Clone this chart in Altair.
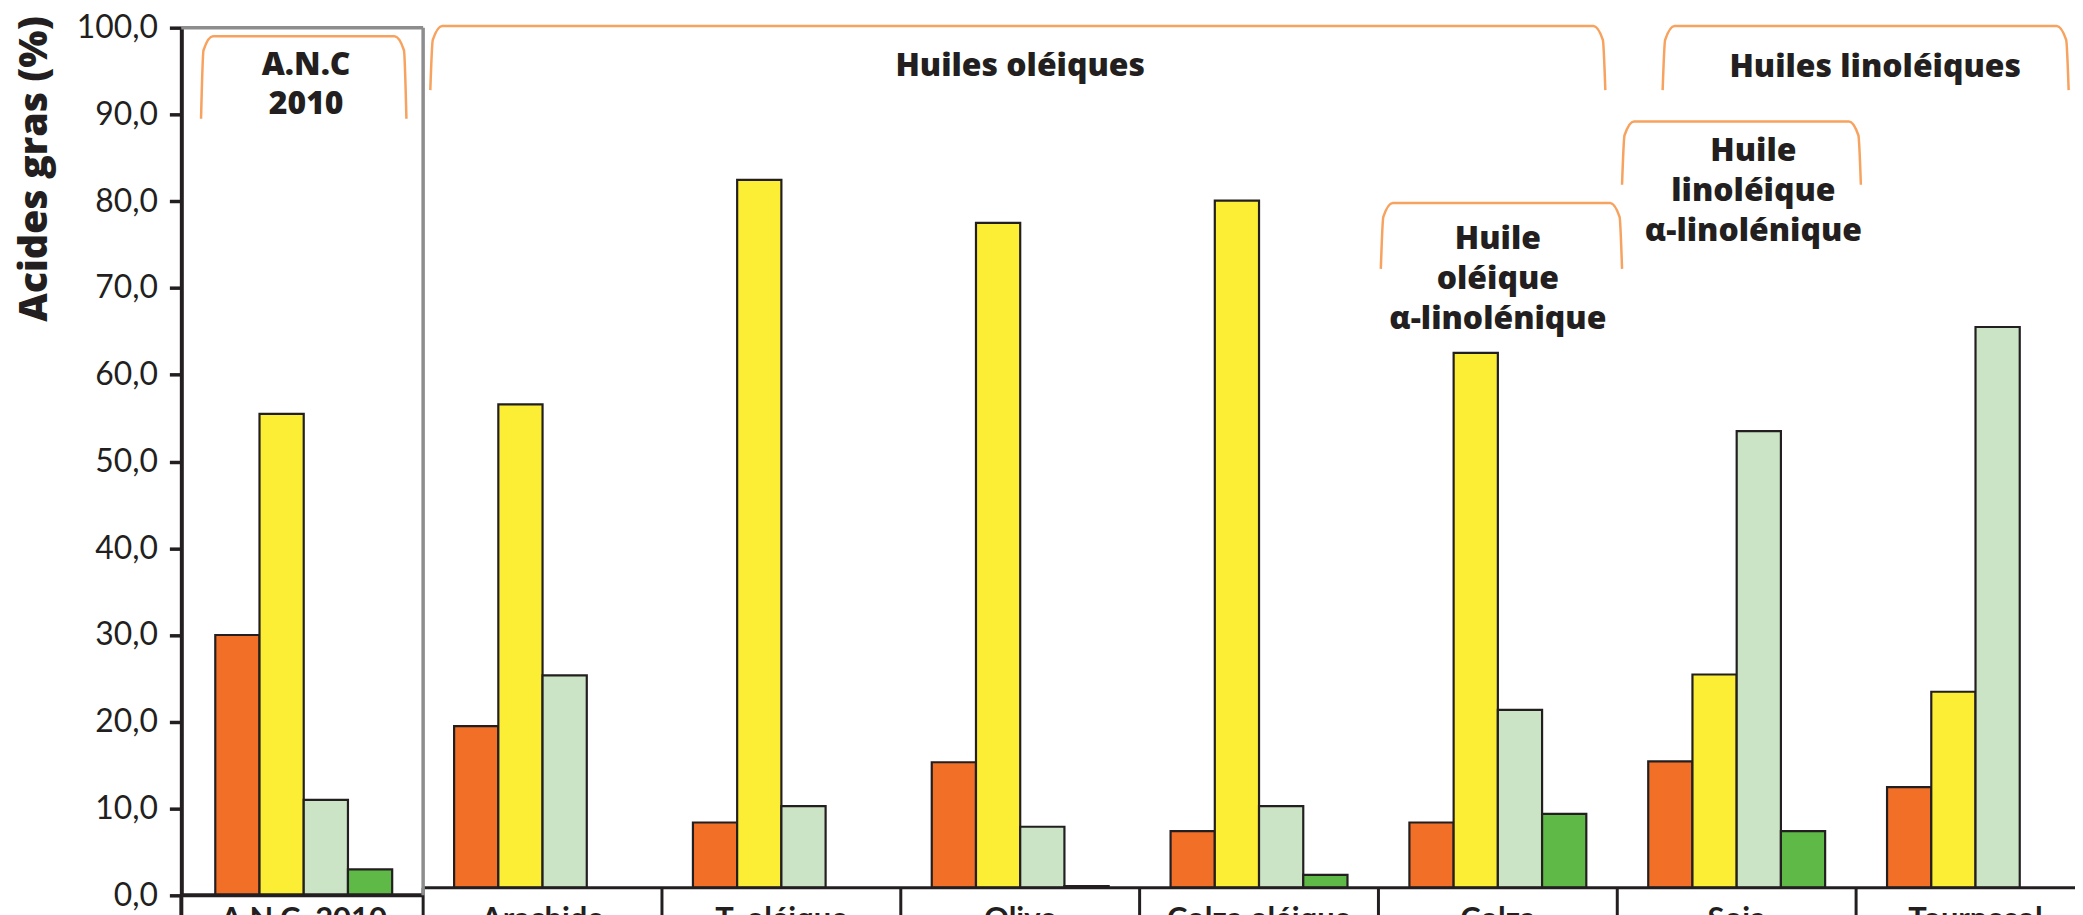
import altair as alt
import pandas as pd

# ---------------- data ----------------
categories = ["A.N.C. 2010", "Arachide", "T. oléique", "Olive",
              "Colza oléique", "Colza", "Soja", "Tournesol"]
acids = ["Acides gras saturés", "Acide oléique", "Acide linoléique", "Acide α-linolénique"]
colors = ["#F26F27", "#FBEE34", "#CBE4C5", "#5EB947"]

saturated = [30.0, 18.8, 7.6, 14.6, 6.6, 7.6, 14.7, 11.7]
oleic = [55.5, 56.2, 82.3, 77.3, 79.9, 62.2, 24.8, 22.8]
linoleic = [11.0, 24.7, 9.5, 7.1, 9.5, 20.7, 53.1, 65.2]
alpha_linolenic = [3.0, None, None, 0.2, 1.5, 8.6, 6.6, None]

y_ticks = [0, 10, 20, 30, 40, 50, 60, 70, 80, 90, 100]

# group annotations (x in category units, y in % units)
group_labels = ["A.N.C\n2010", "Huiles oléiques", "Huiles linoléiques",
                "Huile\nlinoléique\nα-linolénique", "Huile\noléique\nα-linolénique"]
group_x0 = [0.07, 1.03, 6.19, 6.02, 5.01]
group_x1 = [0.93, 5.95, 7.89, 7.02, 6.02]
group_top = [99.0, 100.2, 100.2, 89.2, 79.8]
group_bottom = [89.5, 92.8, 92.8, 81.9, 72.2]
group_text_x = [0.51, 3.50, 7.08, 6.57, 5.50]
group_text_y = [94.6, 94.4, 94.3, 84.6, 74.5]

# ---------------- tables ----------------
rows = []
for i, cat in enumerate(categories):
    for acid, series in zip(acids, [saturated, oleic, linoleic, alpha_linolenic]):
        if series[i] is not None:
            rows.append({"category": cat, "acid": acid, "value": series[i], "panel": "anc" if i == 0 else "oils"})
bars = pd.DataFrame(rows)

path_rows = []
for gid, (x0, x1, yt, yb) in enumerate(zip(group_x0, group_x1, group_top, group_bottom)):
    pts = [(x0, yb), (x0 + 0.0104, yt - 1.6), (x0 + 0.05, yt),
           (x1 - 0.05, yt), (x1 - 0.0104, yt - 1.6), (x1, yb)]
    for o, (u, v) in enumerate(pts):
        path_rows.append({"gid": gid, "u": u, "v": v, "o": o})
paths = pd.DataFrame(path_rows)
texts = pd.DataFrame({"label": group_labels, "u": group_text_x, "v": group_text_y})

n = len(categories)
left_u = -0.0125
rules_a = pd.DataFrame({"u": [left_u, left_u], "u2": [1, left_u], "v": [0, 0], "v2": [0, -5]})
rules_b = pd.DataFrame({"u": [1] + list(range(1, n)), "u2": [n] + list(range(1, n)),
                        "v": [0] * n, "v2": [0] + [-5] * (n - 1)})
rules_gray = pd.DataFrame({"u": [left_u, 1], "u2": [1, 1], "v": [100, 0], "v2": [100, 100]})

# ---------------- scales ----------------
W, H = 1901, 871
x_range = [3, 1921]
ink = "#231F20"


def band_x(axis):
    return alt.X("category:N", scale=alt.Scale(domain=categories, range=x_range,
                                                paddingInner=0, paddingOuter=0),
                 axis=axis, title=None)


def quant_x(field="u"):
    return alt.X(f"{field}:Q", scale=alt.Scale(domain=[0, n], range=x_range, nice=False, zero=False),
                 axis=None)


def y_scale(bottom):
    return alt.Scale(domain=[0, 100], range=[bottom, 0], nice=False, zero=False)


yA = y_scale(H)
yB = y_scale(H - 7.5)

x_axis = alt.Axis(labelFont="Lato", labelFontSize=31, labelFontWeight="bold", labelColor=ink,
                  labelAngle=0, labelBaseline="top", labelPadding=9, ticks=False, tickSize=0,
                  domain=False, grid=False, labelLimit=500, labelOverlap=False)
y_axis = alt.Axis(values=y_ticks, labelExpr="replace(format(datum.value, '.1f'), '.', ',')",
                  labelFont="Lato", labelFontSize=32, labelColor=ink, labelPadding=12,
                  tickSize=12, tickWidth=3.5, tickColor=ink, domainColor=ink, domainWidth=4,
                  grid=False, labelFlush=False, labelOverlap=False,
                  title="Acides gras (%)", titleFont="Open Sans", titleFontSize=39.5, titleFontWeight=800,
                  titleColor=ink, titleAngle=270, titleAnchor="end", titleAlign="right",
                  titleBaseline="alphabetic", titleX=-135, titleY=-12)

offset = alt.XOffset("acid:N", scale=alt.Scale(domain=acids, paddingInner=0, paddingOuter=0.7))
color = alt.Color("acid:N", scale=alt.Scale(domain=acids, range=colors), legend=None)

bars_anc = alt.Chart(bars).transform_filter(alt.datum.panel == "anc").mark_bar(
    stroke=ink, strokeWidth=2.2).encode(
    x=band_x(x_axis), xOffset=offset,
    y=alt.Y("value:Q", scale=yA, axis=y_axis), color=color)

bars_oils = alt.Chart(bars).transform_filter(alt.datum.panel == "oils").mark_bar(
    stroke=ink, strokeWidth=2.2).encode(
    x=band_x(None), xOffset=offset,
    y=alt.Y("value:Q", scale=yB, axis=None), color=color)

rule_a = alt.Chart(rules_a).mark_rule(color=ink, strokeWidth=4).encode(
    x=quant_x(), x2="u2:Q", y=alt.Y("v:Q", scale=yA, axis=None), y2="v2:Q")
rule_b = alt.Chart(rules_b).mark_rule(color=ink, strokeWidth=3).encode(
    x=quant_x(), x2="u2:Q", y=alt.Y("v:Q", scale=yB, axis=None), y2="v2:Q")
rule_g = alt.Chart(rules_gray).mark_rule(color="#8D8D8F", strokeWidth=3.5).encode(
    x=quant_x(), x2="u2:Q", y=alt.Y("v:Q", scale=yA, axis=None), y2="v2:Q")

brackets = alt.Chart(paths).mark_line(color="#F7A25E", strokeWidth=2.5, interpolate="monotone").encode(
    x=quant_x(), y=alt.Y("v:Q", scale=yA, axis=None), detail="gid:N", order="o:Q")

labels = alt.Chart(texts).mark_text(font="Open Sans", fontSize=32, fontWeight=800, color=ink,
                                    align="center", baseline="alphabetic", lineBreak="\n",
                                    lineHeight=40).encode(
    x=quant_x(), y=alt.Y("v:Q", scale=yA, axis=None), text="label:N")

chart = alt.layer(bars_anc, bars_oils, rule_a, rule_b, rule_g, brackets, labels).resolve_scale(
    x="independent", y="independent").properties(
    width=W, height=H,
    padding={"left": 174, "top": 18, "right": 0, "bottom": 18},
    autosize=alt.AutoSizeParams(type="none"),
    background="white",
).configure_view(strokeWidth=0)

chart.save("out.html", embed_options={"renderer": "svg", "actions": False})
